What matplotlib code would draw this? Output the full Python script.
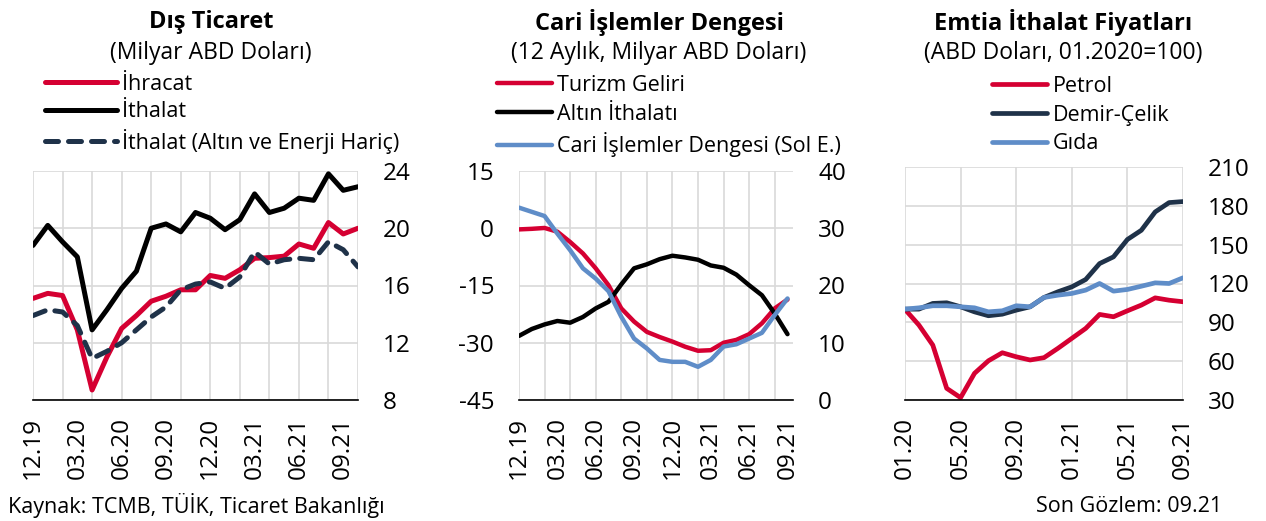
import matplotlib
matplotlib.use('Agg')
import matplotlib.pyplot as plt
import numpy as np
import pandas as pd

plt.rcParams['font.family'] = ['Open Sans', 'DejaVu Sans']
plt.rcParams['axes.unicode_minus'] = False

RED = '#D50032'
NAVY = '#1F3249'
BLUE = '#5F8DC8'
BLACK = '#000000'
GRID = '#D9D9D9'

# Dış Ticaret (12.19 - 10.21), milyar ABD doları
dt_months = pd.period_range('2019-12', '2021-10', freq='M').strftime('%m.%y').tolist()
ihracat = [15.1, 15.45, 15.3, 12.9, 8.7, 11.0, 13.0, 13.9, 14.9, 15.25, 15.7, 15.7,
           16.7, 16.5, 17.1, 17.9, 17.95, 18.05, 18.9, 18.6, 20.4, 19.6, 20.0]
ithalat = [18.8, 20.2, 19.05, 18.0, 12.9, 14.3, 15.8, 17.0, 20.0, 20.3, 19.75, 21.1,
           20.7, 19.9, 20.6, 22.4, 21.1, 21.4, 22.1, 21.95, 23.8, 22.65, 22.9]
ithalat_core = [13.9, 14.3, 14.15, 13.2, 10.9, 11.4, 12.0, 12.9, 13.8, 14.5, 15.7, 16.1,
                16.25, 15.8, 16.6, 18.35, 17.5, 17.8, 17.9, 17.8, 19.05, 18.5, 17.3]
dt_ticks = ['12.19', '03.20', '06.20', '09.20', '12.20', '03.21', '06.21', '09.21']

# Cari İşlemler Dengesi (12.19 - 09.21), 12 aylık
ca_months = pd.period_range('2019-12', '2021-09', freq='M').strftime('%m.%y').tolist()
turizm = [29.8, 29.9, 30.05, 29.4, 27.6, 25.6, 23.0, 20.05, 16.0, 13.7, 11.9, 11.0,
          10.2, 9.3, 8.6, 8.7, 10.0, 10.5, 11.5, 13.4, 16.0, 17.55]
altin = [11.2, 12.4, 13.2, 13.8, 13.5, 14.5, 16.0, 17.15, 20.2, 23.0, 23.7, 24.6,
         25.2, 24.9, 24.5, 23.5, 23.1, 21.9, 20.05, 18.3, 15.1, 11.5]
cari = [5.4, 4.3, 3.2, -1.4, -5.75, -10.5, -13.2, -16.5, -23.2, -28.9, -31.5, -34.5,
        -35.0, -35.0, -36.3, -34.5, -31.0, -30.4, -28.9, -27.4, -22.75, -18.4]
ca_ticks = ['12.19', '03.20', '06.20', '09.20', '12.20', '03.21', '06.21', '09.21']

# Emtia İthalat Fiyatları (01.20 - 09.21), 01.2020=100
em_months = pd.period_range('2020-01', '2021-09', freq='M').strftime('%m.%y').tolist()
petrol = [100.0, 87.9, 72.4, 39.0, 31.8, 50.6, 60.3, 66.5, 63.4, 60.9, 62.7, 69.9,
          77.6, 85.3, 96.1, 94.3, 98.9, 103.3, 108.9, 107.1, 105.9]
demir = [100.2, 100.2, 104.6, 105.1, 102.0, 98.1, 95.1, 96.3, 99.4, 102.0, 109.2, 113.6,
         117.4, 123.1, 135.4, 140.6, 154.0, 161.1, 175.3, 182.5, 183.3]
gida = [100.2, 101.2, 102.8, 102.8, 102.0, 101.2, 98.1, 98.9, 102.8, 102.0, 109.2, 111.0,
        112.3, 114.9, 120.0, 114.1, 115.4, 117.9, 120.5, 120.0, 124.4]
em_ticks = ['01.20', '05.20', '09.20', '01.21', '05.21', '09.21']

W, H = 1266, 521
TICK_FS = 17.5
LEG_FS = 15.5
fig = plt.figure(figsize=(W / 100, H / 100), dpi=100)


def px_axes(l, t, r, b):
    return fig.add_axes([l / W, 1 - b / H, (r - l) / W, (b - t) / H])


def style(ax, months, ticks, grid_step):
    for s in ['top', 'left', 'right']:
        ax.spines[s].set_visible(False)
    ax.spines['bottom'].set_color('black')
    ax.spines['bottom'].set_linewidth(1.2)
    ax.xaxis.remove_overlapping_locs = False
    pos = [months.index(t) for t in ticks]
    ax.set_xticks(pos)
    ax.set_xticklabels(ticks, rotation=90)
    ax.set_xticks(np.arange(0, len(months), grid_step), minor=True)
    ax.grid(True, which='minor', axis='x', color=GRID, lw=1.2)
    ax.grid(True, which='major', axis='y', color=GRID, lw=1.2)
    ax.tick_params(which='both', length=0, labelsize=TICK_FS)
    ax.tick_params(axis='x', pad=12)
    ax.tick_params(axis='y', pad=18)
    ax.set_axisbelow(True)


def title(x, t1, t2):
    fig.text(x / W, 1 - 22 / H, t1, ha='center', va='center', fontsize=17, fontweight='bold')
    fig.text(x / W, 1 - 53 / H, t2, ha='center', va='center', fontsize=16.5)


def legend(ax, handles, labels, x, y, hl, sp):
    ax.legend(handles, labels, loc='upper left', bbox_to_anchor=(x / W, 1 - y / H),
              bbox_transform=fig.transFigure, frameon=False, fontsize=LEG_FS,
              handlelength=hl, handletextpad=0.25, labelspacing=sp,
              borderpad=0, borderaxespad=0)


# --- Panel 1
ax1 = px_axes(33, 171, 358, 400)
ax1.plot(ihracat, color=RED, lw=3.6, label='İhracat', solid_capstyle='round')
ax1.plot(ithalat, color=BLACK, lw=3.6, label='İthalat', solid_capstyle='round')
ax1.plot(ithalat_core, color=NAVY, lw=3.6, ls=(0, (2.6, 2.0)), dash_capstyle='round',
         label='İthalat (Altın ve Enerji Hariç)')
ax1.set_xlim(0, len(dt_months) - 1)
ax1.set_ylim(8, 24)
ax1.set_yticks(np.arange(8, 25, 4))
ax1.yaxis.tick_right()
style(ax1, dt_months, dt_ticks, 2)
h, l = ax1.get_legend_handles_labels()
legend(ax1, h, l, 45, 74, 3.35, 0.3)
title(211, 'Dış Ticaret', '(Milyar ABD Doları)')

# --- Panel 2
ax2 = px_axes(519, 171, 793, 400)
ax2.plot(turizm, color=RED, lw=3.2, label='Turizm Geliri', solid_capstyle='round')
ax2.plot(altin, color=BLACK, lw=3.2, label='Altın İthalatı', solid_capstyle='round')
ax2.set_ylim(0, 40)
ax2.set_yticks(np.arange(0, 41, 10))
ax2.set_xlim(0, 21.43)
style(ax2, ca_months, ca_ticks, 2)
ax2b = ax2.twinx()
ax2.yaxis.tick_right()
ax2b.plot(cari, color=BLUE, lw=3.2, label='Cari İşlemler Dengesi (Sol E.)', solid_capstyle='round')
ax2b.set_ylim(-45, 15)
ax2b.set_yticks(np.arange(-45, 16, 15))
ax2b.yaxis.tick_left()
for s in ['top', 'left', 'right', 'bottom']:
    ax2b.spines[s].set_visible(False)
ax2b.tick_params(length=0, labelsize=TICK_FS, pad=18)
ax2.tick_params(axis='y', length=0, pad=18)
h1, l1 = ax2.get_legend_handles_labels()
h2, l2 = ax2b.get_legend_handles_labels()
legend(ax2b, h1 + h2, l1 + l2, 497, 75, 2.56, 0.35)
title(659, 'Cari İşlemler Dengesi', '(12 Aylık, Milyar ABD Doları)')

# --- Panel 3
ax3 = px_axes(905, 167, 1183, 400)
ax3.plot(petrol, color=RED, lw=3.4, label='Petrol', solid_capstyle='round')
ax3.plot(demir, color=NAVY, lw=3.4, label='Demir-Çelik', solid_capstyle='round')
ax3.plot(gida, color=BLUE, lw=3.4, label='Gıda', solid_capstyle='round')
ax3.set_xlim(0, len(em_months) - 1)
ax3.set_ylim(30, 210)
ax3.set_yticks(np.arange(30, 211, 30))
ax3.yaxis.tick_right()
style(ax3, em_months, em_ticks, 4)
h, l = ax3.get_legend_handles_labels()
legend(ax3, h, l, 992, 76, 2.56, 0.35)
title(1063, 'Emtia İthalat Fiyatları', '(ABD Doları, 01.2020=100)')

fig.text(8 / W, 1 - 506 / H, 'Kaynak: TCMB, TÜİK, Ticaret Bakanlığı', ha='left', va='center', fontsize=15.5)
fig.text(1222 / W, 1 - 506 / H, 'Son Gözlem: 09.21', ha='right', va='center', fontsize=15.5)

fig.savefig('out.png', dpi=100)
